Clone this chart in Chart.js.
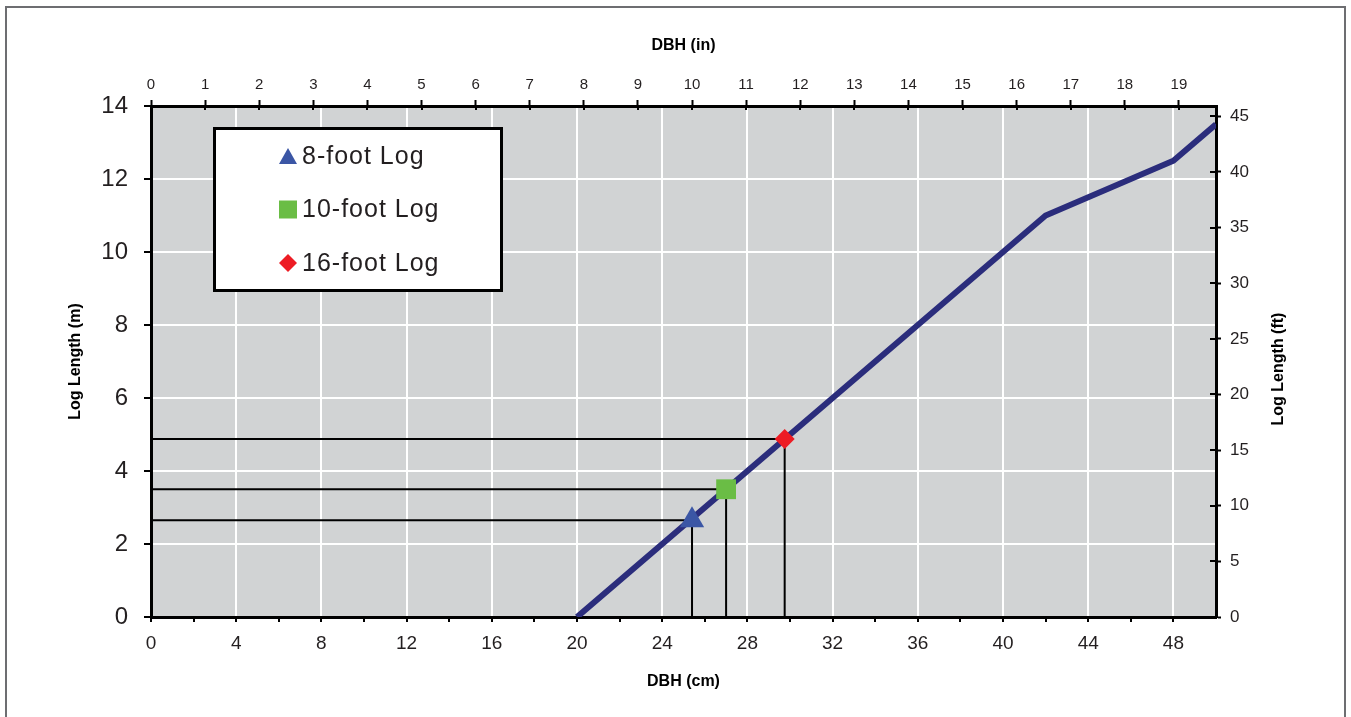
<!DOCTYPE html>
<html>
<head>
<meta charset="utf-8">
<script src="https://cdn.jsdelivr.net/npm/chart.js@4/dist/chart.umd.min.js"></script>
<style>
html,body{margin:0;padding:0;background:#fff;}
#wrap{position:relative;width:1351px;height:717px;overflow:hidden;}
#frame{position:absolute;left:5px;top:6px;width:1337px;height:720px;border:2px solid #6d6e71;pointer-events:none;}
canvas{position:absolute;left:0;top:0;}
</style>
</head>
<body>
<div id="wrap"><canvas id="c" width="1351" height="717"></canvas><div id="frame"></div></div>
<script>
// ---- data ----
const curveCm = [20, 42, 48, 50];
const curveM  = [0, 11, 12.5, 13.5];
const logLabels = ['8-foot Log', '10-foot Log', '16-foot Log'];
const logCm = [25.4, 27, 29.75];
const logM  = [2.65, 3.5, 4.88];
const cmRange = [0, 50];
const mRange  = [0, 14];
const cmTickStep = 2, cmLabelStep = 4, mTickStep = 2, inTickStep = 1, ftTickStep = 5;
const CM_PER_IN = 2.54, M_PER_FT = 0.3048;

// ---- styles ----
const NARROW = "'Liberation Sans Narrow', 'Arial Narrow', 'Liberation Sans', Arial, sans-serif";
const SANS = "'Liberation Sans', Arial, sans-serif";
const TXT = '#231f20';
const markerStyles = ['triangle', 'rect', 'rectRot'];
const markerColors = ['#3b56a5', '#6abd45', '#ed1c24'];
const markerRadii = [14, 14, 10];

const datasets = [];
logLabels.forEach((lab, i) => {
  datasets.push({
    label: lab,
    data: [{x: logCm[i], y: logM[i]}],
    pointStyle: markerStyles[i],
    pointRadius: markerRadii[i],
    pointHoverRadius: markerRadii[i],
    backgroundColor: markerColors[i],
    borderColor: markerColors[i],
    pointBorderWidth: 0,
    showLine: false,
    isMarker: true
  });
});
datasets.push({
  label: 'curve',
  data: curveCm.map((x, i) => ({x, y: curveM[i]})),
  showLine: true,
  borderColor: '#2b2d7c',
  borderWidth: 6,
  pointRadius: 0,
  pointHoverRadius: 0,
  fill: false
});
logLabels.forEach((lab, i) => {
  datasets.push({
    label: lab + ' guide',
    data: [{x: cmRange[0], y: logM[i]}, {x: logCm[i], y: logM[i]}, {x: logCm[i], y: mRange[0]}],
    showLine: true,
    borderColor: '#000',
    borderWidth: 2,
    pointRadius: 0,
    pointHoverRadius: 0,
    fill: false
  });
});

const plotBg = {
  id: 'plotBg',
  beforeDraw(chart) {
    const {ctx, chartArea: a} = chart;
    ctx.save();
    ctx.fillStyle = '#d1d3d4';
    ctx.fillRect(a.left, a.top, a.right - a.left, a.bottom - a.top);
    ctx.restore();
  }
};

function drawMarker(ctx, style, x, y, size, color) {
  ctx.fillStyle = color;
  ctx.beginPath();
  if (style === 'triangle') {
    ctx.moveTo(x, y - size * 0.45);
    ctx.lineTo(x + size / 2, y + size * 0.45);
    ctx.lineTo(x - size / 2, y + size * 0.45);
  } else if (style === 'rect') {
    ctx.rect(x - size / 2, y - size / 2, size, size);
  } else {
    ctx.moveTo(x, y - size / 2);
    ctx.lineTo(x + size / 2, y);
    ctx.lineTo(x, y + size / 2);
    ctx.lineTo(x - size / 2, y);
  }
  ctx.closePath();
  ctx.fill();
}

const extras = {
  id: 'extras',
  afterDraw(chart) {
    const {ctx, chartArea: a, scales} = chart;
    ctx.save();
    // inner halves of tick marks on top and right axes
    ctx.strokeStyle = '#000';
    ctx.lineWidth = 2;
    scales.x2.ticks.forEach(t => {
      const px = Math.round(scales.x2.getPixelForValue(t.value));
      ctx.beginPath(); ctx.moveTo(px, a.top); ctx.lineTo(px, a.top + 4); ctx.stroke();
    });
    scales.y2.ticks.forEach(t => {
      const py = Math.round(scales.y2.getPixelForValue(t.value));
      ctx.beginPath(); ctx.moveTo(a.right - 6, py); ctx.lineTo(a.right, py); ctx.stroke();
    });
    // legend box
    const bx = a.left + 62, by = a.top + 21, bw = 290, bh = 165;
    ctx.fillStyle = '#fff';
    ctx.fillRect(bx, by, bw, bh);
    ctx.lineWidth = 3;
    ctx.strokeStyle = '#000';
    ctx.strokeRect(bx + 1.5, by + 1.5, bw - 3, bh - 3);
    const markers = chart.data.datasets.filter(d => d.isMarker);
    markers.forEach((d, i) => {
      const cy = by + 29 + i * 53.5;
      drawMarker(ctx, d.pointStyle, bx + 75, cy, 18, d.backgroundColor);
      ctx.fillStyle = TXT;
      ctx.font = '25px ' + NARROW;
      ctx.textBaseline = 'middle';
      ctx.textAlign = 'left';
      try { ctx.letterSpacing = '1px'; } catch (e) {}
      ctx.fillText(d.label, bx + 89, cy + 1);
      try { ctx.letterSpacing = '0px'; } catch (e) {}
    });
    // right axis title (reads bottom-to-top)
    ctx.translate(1279, 369);
    ctx.rotate(-Math.PI / 2);
    ctx.font = 'bold 16px ' + SANS;
    ctx.fillStyle = '#000';
    ctx.textAlign = 'center';
    ctx.textBaseline = 'middle';
    ctx.fillText('Log Length (ft)', 0, 0);
    ctx.restore();
  }
};

const W = 1351, H = 717;
const plotLeft = 151, plotRight = 1216, plotTop = 106, plotBottom = 617;

new Chart(document.getElementById('c'), {
  type: 'scatter',
  data: { datasets },
  options: {
    responsive: false,
    devicePixelRatio: 1,
    animation: false,
    layout: { padding: 0 },
    plugins: { legend: { display: false }, tooltip: { enabled: false } },
    scales: {
      x: {
        type: 'linear', position: 'bottom',
        min: cmRange[0], max: cmRange[1],
        afterFit: s => { s.height = H - plotBottom; },
        ticks: {
          stepSize: cmTickStep, autoSkip: false, maxRotation: 0, padding: 10,
          color: TXT, font: { family: NARROW, size: 19 },
          callback: v => (v % cmLabelStep === 0 ? String(v) : '')
        },
        grid: {
          color: c => (c.tick && c.tick.value > cmRange[0] && c.tick.value < cmRange[1] && c.tick.value % cmLabelStep === 0) ? '#ffffff' : 'rgba(0,0,0,0)',
          lineWidth: 2, tickLength: 5, tickWidth: 2,
          tickColor: c => (c.tick && c.tick.value < cmRange[1]) ? '#000' : 'rgba(0,0,0,0)'
        },
        border: { display: true, color: '#000', width: 3 },
        title: { display: true, text: 'DBH (cm)', color: '#000', font: { family: SANS, size: 16, weight: 'bold' }, padding: { top: 0, bottom: 26 } }
      },
      x2: {
        type: 'linear', position: 'top',
        min: cmRange[0] / CM_PER_IN, max: cmRange[1] / CM_PER_IN,
        afterFit: s => { s.height = plotTop; },
        ticks: {
          stepSize: inTickStep, includeBounds: false, autoSkip: false, maxRotation: 0, padding: 6,
          color: TXT, font: { family: NARROW, size: 15 }
        },
        grid: { drawOnChartArea: false, tickLength: 6, tickWidth: 2, tickColor: '#000' },
        border: { display: true, color: '#000', width: 3 },
        title: { display: true, text: 'DBH (in)', color: '#000', font: { family: SANS, size: 16, weight: 'bold' }, padding: { top: 36, bottom: 0 } }
      },
      y: {
        type: 'linear', position: 'left',
        min: mRange[0], max: mRange[1],
        afterFit: s => { s.width = plotLeft; },
        ticks: {
          stepSize: mTickStep, padding: 16,
          color: TXT, font: { family: NARROW, size: 24 }
        },
        grid: {
          color: c => (c.tick && c.tick.value > mRange[0] && c.tick.value < mRange[1]) ? '#ffffff' : 'rgba(0,0,0,0)',
          lineWidth: 2, tickLength: 7, tickWidth: 2, tickColor: '#000'
        },
        border: { display: true, color: '#000', width: 3 },
        title: { display: true, text: 'Log Length (m)', color: '#000', font: { family: SANS, size: 16, weight: 'bold' }, padding: { top: 66, bottom: 0 } }
      },
      y2: {
        type: 'linear', position: 'right',
        min: mRange[0] / M_PER_FT, max: mRange[1] / M_PER_FT,
        afterFit: s => { s.width = W - plotRight; },
        ticks: {
          stepSize: ftTickStep, includeBounds: false, padding: 9,
          color: TXT, font: { family: NARROW, size: 17 }
        },
        grid: { drawOnChartArea: false, tickLength: 5, tickWidth: 2, tickColor: '#000' },
        border: { display: true, color: '#000', width: 3 }
      }
    }
  },
  plugins: [plotBg, extras]
});
</script>
</body>
</html>
